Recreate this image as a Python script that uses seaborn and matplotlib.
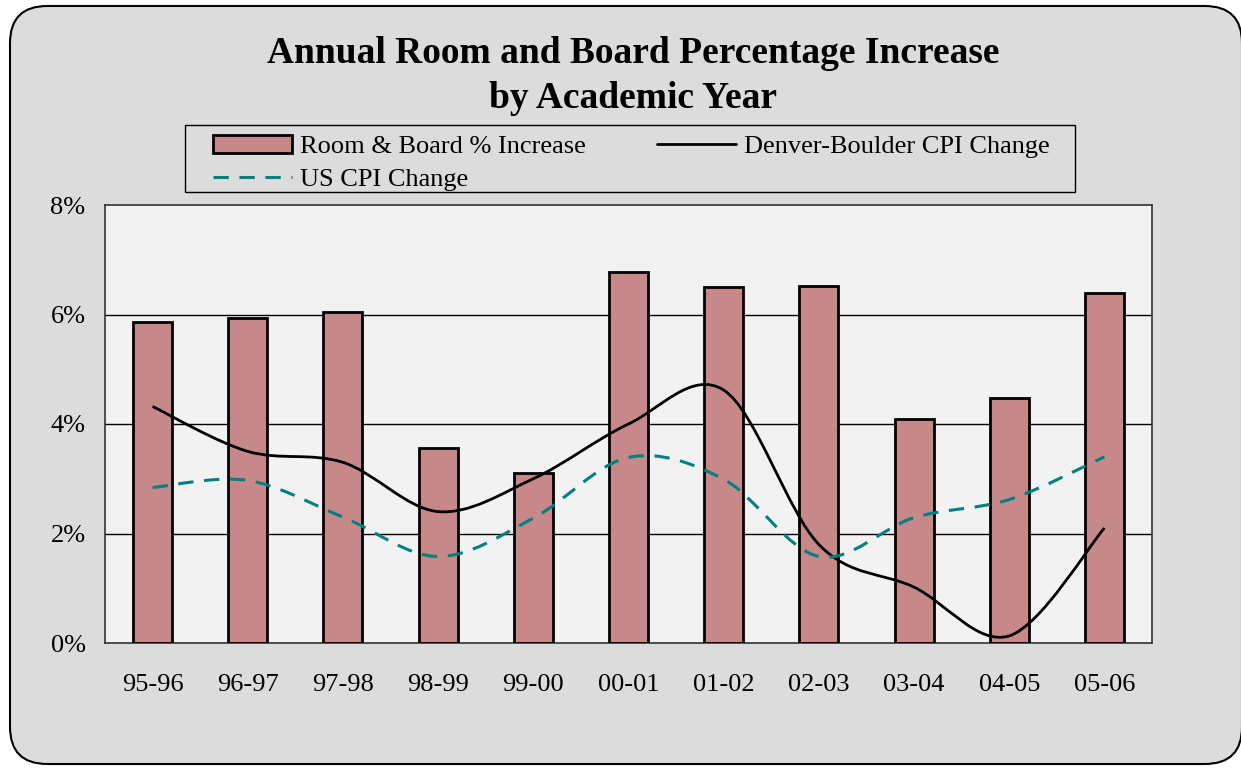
import matplotlib
matplotlib.use("Agg")
import matplotlib.pyplot as plt
from matplotlib.path import Path
from matplotlib.patches import PathPatch, FancyBboxPatch, Patch, Rectangle
from matplotlib.lines import Line2D
import numpy as np
import pandas as pd
import seaborn as sns

years = ["95-96", "96-97", "97-98", "98-99", "99-00", "00-01",
         "01-02", "02-03", "03-04", "04-05", "05-06"]
room_board = [5.87, 5.94, 6.05, 3.57, 3.11, 6.78, 6.50, 6.52, 4.10, 4.48, 6.39]
denver_cpi = [4.32, 3.50, 3.30, 2.40, 3.00, 4.00, 4.62, 1.80, 1.02, 0.13, 2.10]
us_cpi = [2.84, 2.97, 2.30, 1.58, 2.28, 3.39, 2.99, 1.58, 2.29, 2.62, 3.40]

bar_color = "#c68888"
teal = "#008080"
dash = (0, (5, 3.5))

sns.set_theme(style="white")
plt.rcParams['font.family'] = ['Liberation Serif', 'DejaVu Serif']
plt.rcParams['text.color'] = 'black'
plt.rcParams['xtick.color'] = 'black'
plt.rcParams['ytick.color'] = 'black'


def smooth_path(xs, ys):
    # Excel-style smoothed line: cubic bezier through every data point
    pts = np.column_stack([xs, ys]).astype(float)
    n = len(pts)
    verts = [pts[0]]
    codes = [Path.MOVETO]
    for i in range(n - 1):
        p0 = pts[i - 1] if i > 0 else pts[i]
        p1 = pts[i]
        p2 = pts[i + 1]
        p3 = pts[i + 2] if i + 2 < n else pts[i + 1]
        c1 = p1 + (p2 - p0) / 6.0
        c2 = p2 - (p3 - p1) / 6.0
        verts += [c1, c2, p2]
        codes += [Path.CURVE4] * 3
    return Path(verts, codes)


W, H = 1241, 768
fig = plt.figure(figsize=(W / 100, H / 100), dpi=100)
fig.patch.set_facecolor("white")

# rounded chart frame
frame = FancyBboxPatch((10 / W, 4 / H), 1232 / W, 758 / H,
                       boxstyle="round,pad=0,rounding_size=0.03",
                       transform=fig.transFigure, facecolor="#dcdcdc",
                       edgecolor="black", linewidth=1.5, zorder=-5,
                       mutation_aspect=W / H)
fig.patches.append(frame)

ax = fig.add_axes([105 / W, 1 - 643 / H, (1152 - 105) / W, (643 - 205) / H])
ax.set_zorder(2)
ax.set_facecolor("#f2f2f2")

df = pd.DataFrame({"year": years, "value": room_board})
sns.barplot(data=df, x="year", y="value", color=bar_color, width=0.41,
            edgecolor="black", linewidth=2, saturation=1, ax=ax, zorder=3)

xs = np.arange(len(years))
ax.add_patch(PathPatch(smooth_path(xs, denver_cpi), facecolor="none",
                       edgecolor="black", linewidth=2, zorder=4))
ax.add_patch(PathPatch(smooth_path(xs, us_cpi), facecolor="none",
                       edgecolor=teal, linewidth=2.2, linestyle=dash, zorder=4))

ax.set_xlim(-0.5, len(years) - 0.5)
ax.set_ylim(0, 8)
ax.set_yticks([0, 2, 4, 6, 8])
ax.set_yticklabels([f"{v}%" for v in [0, 2, 4, 6, 8]], fontsize=19)
ax.tick_params(axis="x", labelsize=19, pad=22, length=0)
ax.tick_params(axis="y", pad=14, length=0)
ax.set_xlabel("")
ax.set_ylabel("")
for y in [2, 4, 6]:
    ax.axhline(y, color="black", linewidth=1, zorder=1)
for s in ax.spines.values():
    s.set_color("#333333")
    s.set_linewidth(1.2)

fig.text(633 / W, 1 - 76 / H, "Annual Room and Board Percentage Increase\nby Academic Year",
         ha="center", va="center", fontsize=27, fontweight="bold", linespacing=1.36)

# legend frame drawn separately to match the box size
fig.patches.append(Rectangle((185 / W, 1 - 192 / H), (1075 - 185) / W, 67 / H,
                             transform=fig.transFigure, facecolor="#dcdcdc",
                             edgecolor="black", linewidth=1, zorder=1))
handles = [
    Patch(facecolor=bar_color, edgecolor="black", linewidth=2),
    Line2D([0], [0], color=teal, linewidth=2.2, linestyle=dash),
    Line2D([0], [0], color="black", linewidth=2),
]
labels = ["Room & Board % Increase", "US CPI Change", "Denver-Boulder CPI Change"]
leg = fig.legend(handles, labels, ncol=2, loc="upper left",
                 bbox_to_anchor=(213 / W, 1 - 135 / H), fontsize=19,
                 frameon=False, handlelength=3.0, handleheight=0.7,
                 columnspacing=2.7, borderpad=0.0, borderaxespad=0,
                 labelspacing=0.35, handletextpad=0.3)
leg.set_zorder(3)

fig.savefig("out.png", dpi=100)
